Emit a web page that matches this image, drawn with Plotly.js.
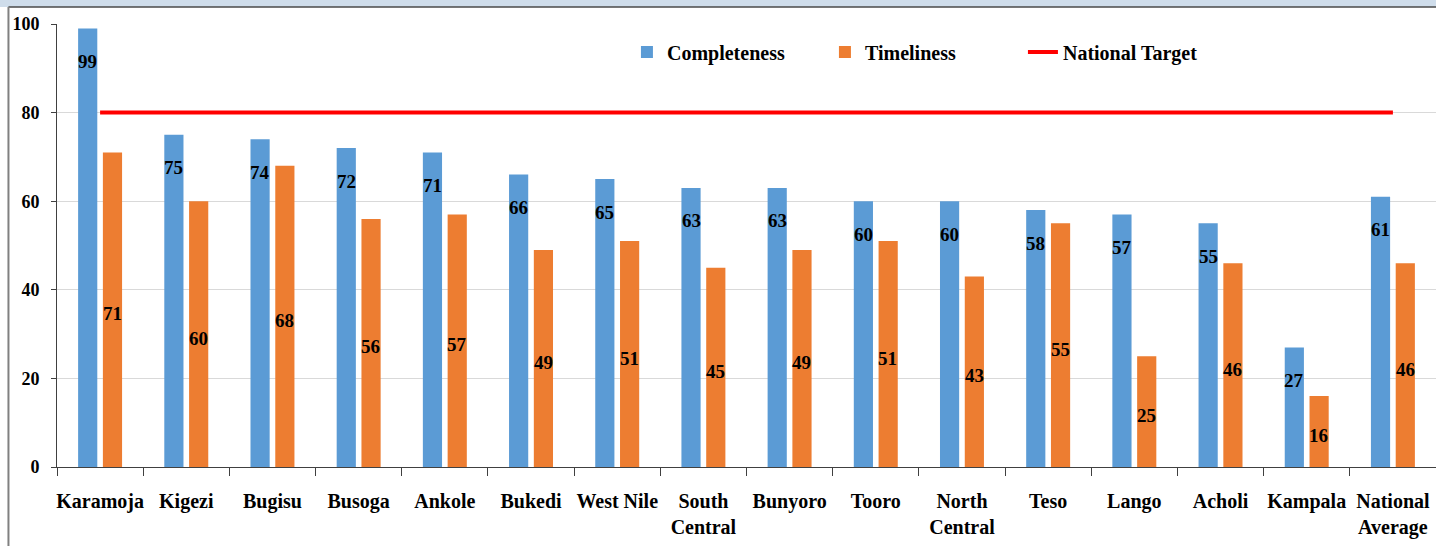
<!DOCTYPE html>
<html>
<head>
<meta charset="utf-8">
<script src="https://cdn.plot.ly/plotly-3.0.1.min.js"></script>
<style>
  html, body { margin: 0; padding: 0; background: #ffffff; }
  #chart { width: 1436px; height: 546px; }
</style>
</head>
<body>
<div id="chart"></div>
<script>
// ---- data ----
var categories = ['Karamoja', 'Kigezi', 'Bugisu', 'Busoga', 'Ankole', 'Bukedi', 'West Nile',
  'South<br>Central', 'Bunyoro', 'Tooro', 'North<br>Central', 'Teso', 'Lango', 'Acholi',
  'Kampala', 'National<br>Average'];
var completeness = [99, 75, 74, 72, 71, 66, 65, 63, 63, 60, 60, 58, 57, 55, 27, 61];
var timeliness   = [71, 60, 68, 56, 57, 49, 51, 45, 49, 51, 43, 55, 25, 46, 16, 46];
var nationalTarget = [80, 80, 80, 80, 80, 80, 80, 80, 80, 80, 80, 80, 80, 80, 80, 80];
var yTicks = [0, 20, 40, 60, 80, 100];

var FONT = '"Liberation Serif", "Times New Roman", serif';

var traces = [
  {
    type: 'bar', name: 'Completeness', x: categories, y: completeness,
    marker: { color: '#5B9BD5', line: { width: 0 } },
    hoverinfo: 'x+y'
  },
  {
    type: 'bar', name: 'Timeliness', x: categories, y: timeliness,
    marker: { color: '#ED7D31', line: { width: 0 } },
    hoverinfo: 'x+y'
  },
  {
    type: 'scatter', mode: 'lines', name: 'National Target', x: categories, y: nationalTarget,
    line: { color: '#FF0000', width: 4 },
    hoverinfo: 'x+y'
  }
];

var labelFont = { family: FONT, size: 19, color: '#000000', weight: 'bold' };
var annotations = [];
categories.forEach(function (c, i) {
  annotations.push({
    x: c, y: completeness[i], xref: 'x', yref: 'y',
    text: String(completeness[i]), showarrow: false,
    xshift: -12.4, yshift: -33, yanchor: 'middle', font: labelFont
  });
  annotations.push({
    x: c, y: timeliness[i] / 2, xref: 'x', yref: 'y',
    text: String(timeliness[i]), showarrow: false,
    xshift: 12.2, yshift: -4, yanchor: 'middle', font: labelFont
  });
});

var shapes = [
  // light blue top strip of the frame
  { type: 'rect', xref: 'paper', yref: 'paper', x0: -0.06, x1: 1.02, y0: 1.0384, y1: 1.07,
    fillcolor: '#CFDDEB', line: { width: 0 }, layer: 'below' },
  // dark line under the strip
  { type: 'line', xref: 'paper', yref: 'paper', x0: -0.0352, x1: 1.02, y0: 1.0384, y1: 1.0384,
    line: { color: '#4A4A4A', width: 1.5 } },
  // left frame line
  { type: 'line', xref: 'paper', yref: 'paper', x0: -0.0352, x1: -0.0352, y0: -0.25, y1: 1.0384,
    line: { color: '#808080', width: 2 } }
];

var layout = {
  width: 1436, height: 546,
  margin: { l: 57, r: 0, t: 24, b: 79, pad: 0 },
  paper_bgcolor: '#ffffff', plot_bgcolor: '#ffffff',
  font: { family: FONT, color: '#000000' },
  barmode: 'group', bargap: 0.425, bargroupgap: 0.226,
  showlegend: true,
  legend: {
    orientation: 'h', x: 0.4133, xanchor: 'left', y: 0.937, yanchor: 'middle',
    bgcolor: 'rgba(0,0,0,0)', font: { family: FONT, size: 20, color: '#000000', weight: 'bold' },
    traceorder: 'normal', entrywidth: 153, entrywidthmode: 'pixels'
  },
  xaxis: {
    type: 'category', tickson: 'boundaries', ticks: 'outside', ticklen: 8, tickwidth: 1,
    tickcolor: '#404040', showline: true, linecolor: '#404040', linewidth: 1,
    showgrid: false, zeroline: false, tickangle: 0,
    tickfont: { family: FONT, size: 20, color: '#000000', weight: 'bold' },
    ticklabelstandoff: 16, fixedrange: true
  },
  yaxis: {
    range: [0, 100], tickmode: 'array', tickvals: yTicks, ticktext: yTicks.map(String),
    ticks: 'outside', ticklen: 5, tickwidth: 1, tickcolor: '#404040',
    showline: true, linecolor: '#404040', linewidth: 1,
    showgrid: true, gridcolor: '#D9D9D9', gridwidth: 1, zeroline: false,
    tickfont: { family: FONT, size: 18, color: '#000000', weight: 'bold' },
    ticklabelstandoff: 8, fixedrange: true
  },
  annotations: annotations,
  shapes: shapes
};

Plotly.newPlot('chart', traces, layout, { displayModeBar: false, staticPlot: false });
</script>
</body>
</html>
